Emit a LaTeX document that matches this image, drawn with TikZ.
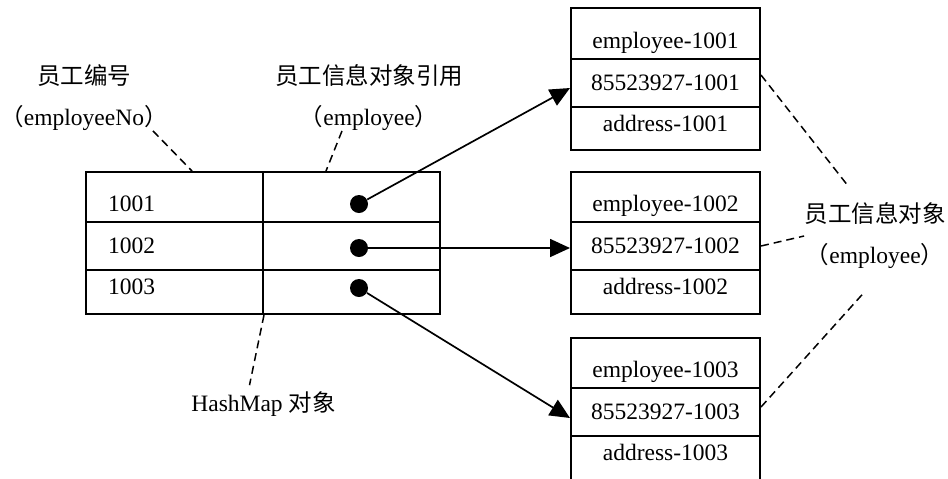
\documentclass[tikz,border=0pt]{standalone}
\usepackage{fontspec}
\setmainfont{Liberation Serif}
\newfontfamily\cjk{Noto Sans CJK SC}
\usepackage{tikz}
\usetikzlibrary{arrows.meta}

\tikzset{
    every node/.append style={font=\fontsize{11.75pt}{20.5pt}\selectfont},
    cell/.style={draw, line width=1pt, inner sep=0pt, text height=8pt, text depth=0.5pt},
    celltop/.style={cell, text height=15pt},
    cellbot/.style={cell, text depth=5.5pt},
    keycell/.style={minimum width=88.5pt, text width=66.5pt, align=left},
    valcell/.style={minimum width=88.5pt},
    objcell/.style={minimum width=94.5pt},
    dot/.style={fill, circle, inner sep=0pt, minimum size=9pt},
    ref/.style={line width=0.85pt, -{Triangle[length=10pt,width=9pt]}},
    note/.style={line width=0.75pt, dash pattern=on 4pt off 2.5pt},
    lab/.style={align=center, inner sep=0pt}
}

\begin{document}
\begin{tikzpicture}[x=0.5pt, y=-0.5pt]
        \useasboundingbox (0,0) rectangle (948,478);

        \node[celltop, keycell, minimum height=25pt] (k1) at (174.5,197) {1001};
        \node[cell, keycell, minimum height=24pt] (k2) at (174.5,246) {1002};
        \node[cellbot, keycell, minimum height=22pt] (k3) at (174.5,292) {1003};
        \node[celltop, valcell, minimum height=25pt] (v1) at (351.5,197) {};
        \node[cell, valcell, minimum height=24pt] (v2) at (351.5,246) {};
        \node[cellbot, valcell, minimum height=22pt] (v3) at (351.5,292) {};

        \node[dot] (d1) at (359,204) {};
        \node[dot] (d2) at (359,248) {};
        \node[dot] (d3) at (359,288) {};

        \node[celltop, objcell, minimum height=25.5pt] (a1) at (665.5,33.5) {employee-1001};
        \node[cell, objcell, minimum height=24pt] (b1) at (665.5,83) {85523927-1001};
        \node[cellbot, objcell, minimum height=21.5pt] (c1) at (665.5,128.5) {address-1001};

        \node[celltop, objcell, minimum height=25pt] (a2) at (665.5,197) {employee-1002};
        \node[cell, objcell, minimum height=24pt] (b2) at (665.5,246) {85523927-1002};
        \node[cellbot, objcell, minimum height=22pt] (c2) at (665.5,292) {address-1002};

        \node[celltop, objcell, minimum height=25pt] (a3) at (665.5,363) {employee-1003};
        \node[cell, objcell, minimum height=24pt] (b3) at (665.5,412) {85523927-1003};
        \node[cellbot, objcell, minimum height=22pt] (c3) at (665.5,458) {address-1003};

        \node[lab] (labNo) at (84,97.5) {{\cjk 员工编号}\\{\cjk （}employeeNo{\cjk ）}};
        \node[lab] (labRef) at (369,97.5) {{\cjk 员工信息对象引用}\\{\cjk （}employee{\cjk ）}};
        \node[lab] (labObj) at (875,236) {{\cjk 员工信息对象}\\{\cjk （}employee{\cjk ）}};
        \node[lab] (labMap) at (263.5,404) {HashMap {\cjk 对象}};

        \draw[ref] (d1) -- ([yshift=-2.5pt]b1.west);
        \draw[ref] (d2) -- ([yshift=-1pt]b2.west);
        \draw[ref] (d3) -- ([yshift=-3pt]b3.west);

        \draw[note] ([xshift=-7.5pt]labNo.south east) -- ([xshift=8.75pt]k1.north);
        \draw[note] ([xshift=-13.5pt]labRef.south) -- ([xshift=-12.75pt]v1.north);
        \draw[note] (k3.south east) -- ([shift={(-7pt,3pt)}]labMap.north);
        \draw[note] ([yshift=4pt]b1.east) -- ([shift={(-14pt,9pt)}]labObj.north);
        \draw[note] (b2.east) -- (labObj.west);
        \draw[note] ([yshift=2.5pt]b3.east) -- ([shift={(-5pt,-11pt)}]labObj.south);
\end{tikzpicture}
\end{document}
